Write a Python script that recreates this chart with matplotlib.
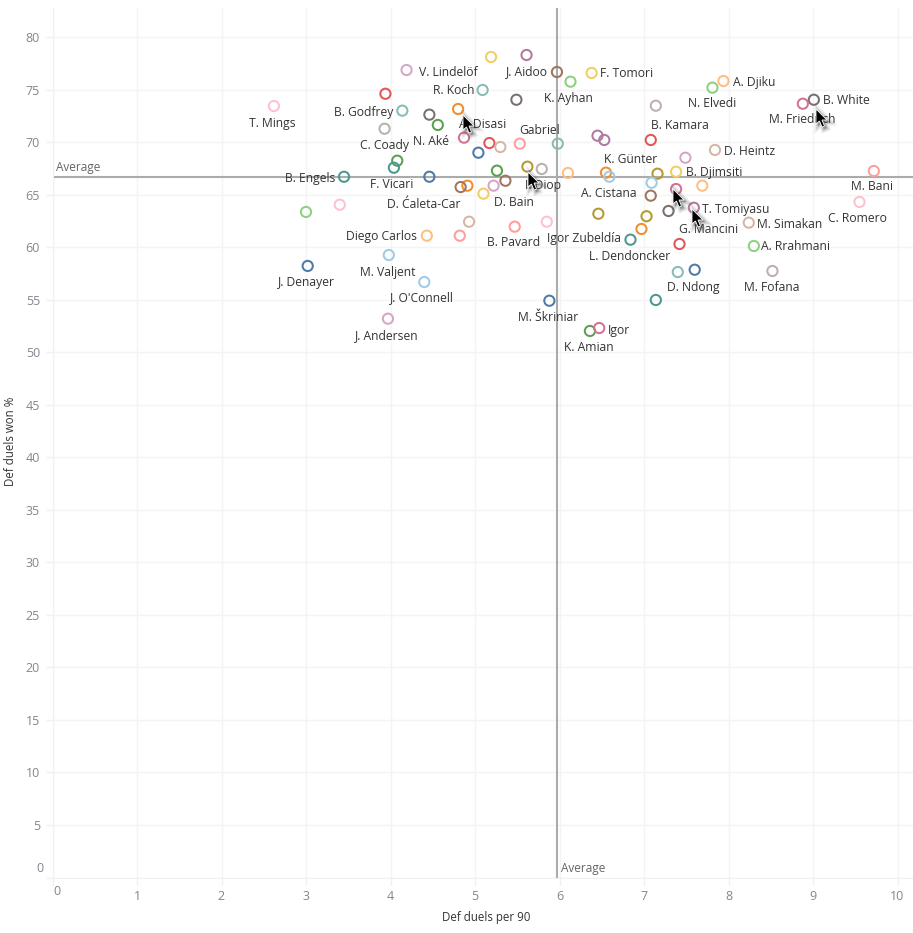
import matplotlib
matplotlib.use('Agg')
import matplotlib.pyplot as plt
from matplotlib.path import Path
from matplotlib.patches import PathPatch
from matplotlib.transforms import Affine2D

plt.rcParams['font.family'] = ['Open Sans', 'DejaVu Sans']

RED = '#e15759'; PINKRED = '#ff9d9a'; PINK = '#ffc0cf'; LILAC = '#d4a6c8'
CRIMSON = '#d37295'; PURPLE = '#b07aa1'; YELLOW = '#f1ce63'; GOLD = '#b6992d'
ORANGE = '#f28e2b'; LTORANGE = '#ffbe7d'; GREEN = '#59a14f'; LTGREEN = '#8cd17d'
TEAL = '#499894'; LTTEAL = '#86bcb6'; BLUE = '#4e79a7'; LTBLUE = '#a0cbe8'
BROWN = '#9d7660'; TAN = '#d7b5a6'; GREY = '#79706e'; LTGREY = '#bab0ac'

duels_per90 = [2.62, 4.19, 5.19, 5.61, 5.97, 6.13, 5.09, 3.94, 5.49, 4.14,
               4.46, 4.80, 4.56, 3.93, 4.87, 5.17, 5.30, 5.53, 5.98, 5.04,
               4.08, 4.04, 3.45, 4.46, 5.26, 5.62, 5.79, 6.10, 5.36, 5.22,
               4.91, 4.83, 5.10, 3.00, 3.40, 4.93, 4.82, 4.43, 5.47, 5.85,
               3.98, 4.40, 3.02, 5.88, 3.97, 6.36, 6.38, 7.94, 7.81, 9.01,
               8.88, 7.14, 7.08, 6.45, 6.53, 7.84, 7.49, 7.38, 7.16, 6.55,
               6.59, 7.09, 7.38, 7.69, 9.72, 9.55, 7.08, 6.46, 7.03, 7.29,
               7.59, 8.24, 8.30, 6.97, 6.84, 7.42, 7.40, 7.60, 8.52, 7.14,
               6.47]
duels_won = [73.43, 76.86, 78.10, 78.29, 76.67, 75.75, 74.96, 74.60, 74.03, 72.99,
             72.61, 73.15, 71.63, 71.27, 70.42, 69.91, 69.53, 69.85, 69.85, 68.99,
             68.23, 67.56, 66.70, 66.70, 67.28, 67.66, 67.44, 67.06, 66.32, 65.85,
             65.85, 65.72, 65.09, 63.35, 64.04, 62.42, 61.09, 61.09, 61.95, 62.42,
             59.25, 56.68, 58.21, 54.90, 53.19, 52.02, 76.58, 75.81, 75.18, 74.03,
             73.65, 73.46, 70.20, 70.61, 70.20, 69.25, 68.51, 67.18, 66.99, 67.09,
             66.70, 66.13, 65.53, 65.85, 67.25, 64.30, 64.90, 63.18, 62.94, 63.44,
             63.75, 62.33, 60.11, 61.73, 60.71, 60.30, 57.63, 57.85, 57.73, 54.97,
             52.30]
colors = [PINK, LILAC, YELLOW, PURPLE, BROWN, LTGREEN, LTTEAL, RED, GREY, LTTEAL,
          GREY, ORANGE, GREEN, LTGREY, CRIMSON, RED, TAN, PINKRED, LTTEAL, BLUE,
          GREEN, TEAL, TEAL, BLUE, GREEN, GOLD, LTGREY, LTORANGE, BROWN, LILAC,
          ORANGE, BROWN, YELLOW, LTGREEN, PINK, TAN, PINKRED, LTORANGE, PINKRED, PINK,
          LTBLUE, LTBLUE, BLUE, BLUE, LILAC, GREEN, YELLOW, LTORANGE, LTGREEN, GREY,
          CRIMSON, LTGREY, RED, PURPLE, PURPLE, TAN, LILAC, YELLOW, GOLD, ORANGE,
          LTBLUE, LTBLUE, CRIMSON, LTORANGE, PINKRED, PINK, BROWN, GOLD, GOLD, GREY,
          PURPLE, TAN, LTGREEN, ORANGE, TEAL, RED, LTTEAL, BLUE, LTGREY, TEAL,
          CRIMSON]

# point index -> player name
names = {0: 'T. Mings', 1: 'V. Lindelöf', 4: 'J. Aidoo', 5: 'K. Ayhan', 6: 'R. Koch',
         9: 'B. Godfrey', 11: 'A. Disasi', 13: 'C. Coady', 14: 'N. Aké', 18: 'Gabriel',
         21: 'F. Vicari', 22: 'B. Engels', 25: 'I. Diop', 31: 'D. Ćaleta-Car', 32: 'D. Bain',
         37: 'Diego Carlos', 38: 'B. Pavard', 40: 'M. Valjent', 41: "J. O'Connell",
         42: 'J. Denayer', 43: 'M. Škriniar', 44: 'J. Andersen', 45: 'K. Amian', 80: 'Igor',
         46: 'F. Tomori', 47: 'A. Djiku', 48: 'N. Elvedi', 49: 'B. White', 50: 'M. Friedrich',
         51: 'B. Kamara', 55: 'D. Heintz', 58: 'K. Günter', 57: 'B. Djimsiti', 66: 'A. Cistana',
         70: 'T. Tomiyasu', 69: 'G. Mancini', 71: 'M. Simakan', 72: 'A. Rrahmani',
         65: 'C. Romero', 64: 'M. Bani', 67: 'Igor Zubeldía', 74: 'L. Dendoncker',
         77: 'D. Ndong', 78: 'M. Fofana'}
# label centre relative to its point, in pixels
label_shift = {0: (-2, -17), 1: (42, -2), 4: (-30, 0), 5: (-2, -17), 6: (-29, -1),
               9: (-39, -2), 11: (24, -16), 13: (0, -17), 14: (-33, -4), 18: (-18, 13),
               21: (-2, -17), 22: (-34, -2), 25: (16, -19), 31: (-37, -17), 32: (30, -9),
               37: (-45, -1), 38: (-1, -16), 40: (-1, -17), 41: (-2, -16), 42: (-1, -17),
               43: (-1, -17), 44: (-1, -17), 45: (-1, -17), 80: (20, -2), 46: (35, -1),
               47: (31, -1), 48: (0, -16), 49: (33, -1), 50: (-1, -16), 51: (24, -20),
               55: (35, -2), 58: (-27, 14), 57: (38, -1), 66: (-42, 2), 70: (42, -2),
               69: (40, -19), 71: (41, -2), 72: (42, -1), 65: (-2, -17), 64: (-2, -16),
               67: (-14, -25), 74: (-1, -17), 77: (-1, -18), 78: (-1, -17)}

x_ticks = list(range(0, 11))
y_ticks = list(range(0, 85, 5))
avg_x = 5.97
avg_y = 66.7
cursor_tips = [(463, 115), (528, 172), (673, 189), (692, 209), (816, 109)]

W, H = 913, 933
fig = plt.figure(figsize=(W / 100, H / 100), dpi=100)
ax = fig.add_axes([52.5 / W, (H - 877.5) / H, (W - 52.5) / W, 869.5 / H])
ax.set_xlim(0, 860.5 / 84.5)
ax.set_ylim(0, 869.5 / 10.506)

for s in ['top', 'right']:
    ax.spines[s].set_visible(False)
for s in ['left', 'bottom']:
    ax.spines[s].set_color('#f0f0f0')
ax.set_axisbelow(True)
ax.grid(True, color='#f4f4f4', lw=1)
ax.tick_params(length=5, width=1, color='#f0f0f0', labelsize=9, labelcolor='#7f8790', pad=4)
ax.set_xticks(x_ticks)
ax.set_xticklabels([''] + [str(v) for v in x_ticks[1:]])
ax.set_yticks(y_ticks)
ax.set_yticklabels([''] + [str(v) for v in y_ticks[1:]])
# the zero labels sit inside the plot edge in the original
ax.annotate('0', (0, 0), xytext=(4, -14), textcoords='offset pixels', ha='center', va='center',
            fontsize=9, color='#7f8790', annotation_clip=False)
ax.annotate('0', (0, 0), xytext=(-13, 9), textcoords='offset pixels', ha='center', va='center',
            fontsize=9, color='#7f8790', annotation_clip=False)

ax.axvline(avg_x, color='#ababab', lw=1.5, zorder=2)
ax.axhline(avg_y, color='#ababab', lw=1.5, zorder=2)
ax.annotate('Average', (0, avg_y), xytext=(3, 9), textcoords='offset pixels', ha='left', va='center',
            fontsize=8.5, color='#666666')
ax.annotate('Average', (avg_x, 0), xytext=(4, 9), textcoords='offset pixels', ha='left', va='center',
            fontsize=8.5, color='#666666')

ax.scatter(duels_per90, duels_won, s=54, facecolors='none', edgecolors=colors, linewidths=1.45, zorder=3)

for i, name in names.items():
    dx, dy = label_shift[i]
    ax.annotate(name, (duels_per90[i], duels_won[i]), xytext=(dx, dy), textcoords='offset pixels',
                ha='center', va='center', fontsize=8.7, color='#333333', zorder=4)

ax.set_xlabel('Def duels per 90', fontsize=8.3, color='#333333', va='center')
ax.xaxis.set_label_coords((486 - 52.5) / 860.5, -(918 - 877.5) / 869.5)
ax.set_ylabel('Def duels won %', fontsize=8.3, color='#333333', va='center')
ax.yaxis.set_label_coords(-(52.5 - 11) / 860.5, (877.5 - 441) / 869.5)

# mouse pointers left in the screenshot
arrow = Path([(0, 0), (0, 15), (3.5, 12), (6, 18), (8.5, 17), (6, 11), (11, 11), (0, 0)], closed=True)
for px, py in cursor_tips:
    base = Affine2D().scale(1, -1).translate(px, H - py)
    for grow, alpha in [(5, 0.10), (3, 0.14), (1.5, 0.18)]:
        fig.add_artist(PathPatch(arrow, transform=base + Affine2D().translate(2, -2), fc='#444444',
                                 ec='#444444', lw=grow, alpha=alpha, zorder=9))
    fig.add_artist(PathPatch(arrow, transform=base, fc='black', ec='white', lw=0.6, zorder=10))

fig.savefig('out.png', dpi=100)
